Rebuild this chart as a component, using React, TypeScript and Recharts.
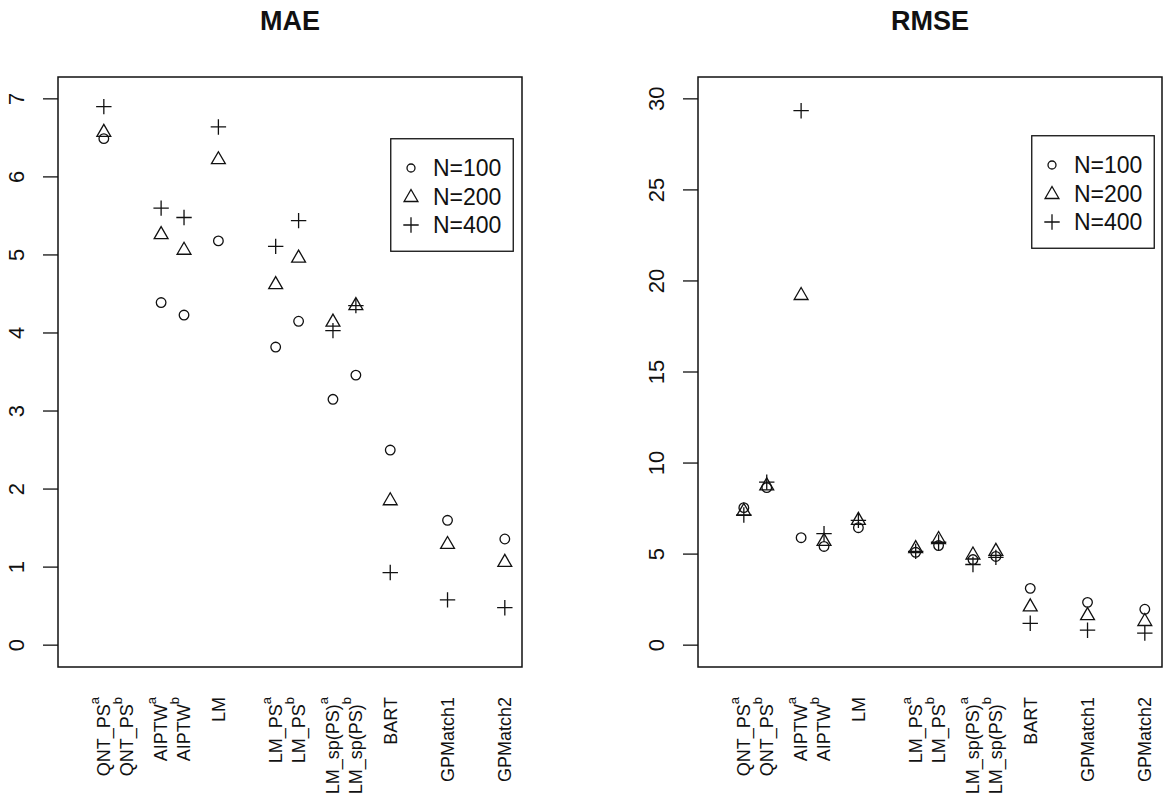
import React from 'react';
import { ScatterChart, Scatter, XAxis, YAxis, ReferenceArea, Legend } from 'recharts';

// x positions of the methods (numeric axis, R-style spacing)
const positions = [1, 1.4, 2, 2.4, 3, 4, 4.4, 5, 5.4, 6, 7, 8];
const methodNames = ['QNT_PS', 'QNT_PS', 'AIPTW', 'AIPTW', 'LM', 'LM_PS', 'LM_PS', 'LM_sp(PS)', 'LM_sp(PS)', 'BART', 'GPMatch1', 'GPMatch2'];
const methodSups = ['a', 'b', 'a', 'b', '', 'a', 'b', 'a', 'b', '', '', ''];

const seriesNames = ['N=100', 'N=200', 'N=400'];

// MAE (QNT_PS^b has no value in this panel)
const maeN100 = [6.49, null, 4.39, 4.23, 5.18, 3.82, 4.15, 3.15, 3.46, 2.5, 1.6, 1.36];
const maeN200 = [6.57, null, 5.26, 5.06, 6.22, 4.62, 4.96, 4.14, 4.35, 1.85, 1.29, 1.06];
const maeN400 = [6.9, null, 5.6, 5.48, 6.64, 5.11, 5.44, 4.03, 4.35, 0.93, 0.58, 0.48];

// RMSE
const rmseN100 = [7.55, 8.65, 5.9, 5.42, 6.45, 5.1, 5.47, 4.7, 4.87, 3.12, 2.35, 1.97];
const rmseN200 = [7.35, 8.75, 19.2, 5.7, 6.85, 5.3, 5.8, 4.95, 5.15, 2.1, 1.62, 1.3];
const rmseN400 = [7.15, 8.95, 29.35, 6.12, 6.85, 5.15, 5.65, 4.43, 4.82, 1.2, 0.82, 0.66];

const maeTicks = [0, 1, 2, 3, 4, 5, 6, 7];
const rmseTicks = [0, 5, 10, 15, 20, 25, 30];

const FONT = '"Liberation Sans", Arial, Helvetica, sans-serif';
const INK = '#111';
const X_DOMAIN: [number, number] = [0.2, 8.3];

const toPoints = (vals: (number | null)[]) =>
  positions.map((x, i) => ({ x, y: vals[i] })).filter(p => p.y !== null);

function CircleMark({ cx, cy, r = 4.8 }: any) {
  return <circle cx={cx} cy={cy} r={r} fill="none" stroke={INK} strokeWidth={1.3} />;
}

function TriangleMark({ cx, cy }: any) {
  const r = 8;
  const pts = `${cx},${cy - r} ${cx + 0.866 * r},${cy + r / 2} ${cx - 0.866 * r},${cy + r / 2}`;
  return <polygon points={pts} fill="none" stroke={INK} strokeWidth={1.3} />;
}

function PlusMark({ cx, cy }: any) {
  const h = 7.7;
  return (
    <path d={`M${cx - h},${cy}H${cx + h}M${cx},${cy - h}V${cy + h}`} stroke={INK} strokeWidth={1.3} fill="none" />
  );
}

const makeYTick = (labelX: number) => (props: any) => {
  const { y, payload } = props;
  return (
    <text transform={`translate(${labelX},${y}) rotate(-90)`} textAnchor="middle" dy="0.35em"
      fontSize={22} fontFamily={FONT} fill={INK}>
      {payload.value}
    </text>
  );
};

const XTick = (props: any) => {
  const { x, payload } = props;
  const i = positions.indexOf(payload.value);
  return (
    <text transform={`translate(${x},697) rotate(-90)`} textAnchor="end" dy="0.35em"
      fontSize={18} fontFamily={FONT} fill={INK}>
      {methodNames[i]}
      {methodSups[i] ? <tspan dy={-11} fontSize={13}>{methodSups[i]}</tspan> : null}
    </text>
  );
};

const LegendBox = () => (
  <svg width={124} height={114} style={{ display: 'block' }}>
    <rect x={0.75} y={0.75} width={122.5} height={112.5} fill="#fff" stroke={INK} strokeWidth={1.3} />
    {seriesNames.map((name, i) => {
      const cy = 30 + i * 28.5;
      return (
        <g key={name}>
          {i === 0 && <CircleMark cx={21} cy={cy} r={4} />}
          {i === 1 && <TriangleMark cx={21} cy={cy + 1} />}
          {i === 2 && <PlusMark cx={21} cy={cy} />}
          <text x={43} y={cy} dy="0.35em" fontSize={23} fontFamily={FONT} fill={INK}>{name}</text>
        </g>
      );
    })}
  </svg>
);

interface PanelProps {
  title: string;
  left: number;
  plotLeft: number;
  plotRight: number;
  yDomain: [number, number];
  yTicks: number[];
  n100: (number | null)[];
  n200: (number | null)[];
  n400: (number | null)[];
  legendLeft: number;
  legendTop: number;
}

function Panel({ title, left, plotLeft, plotRight, yDomain, yTicks, n100, n200, n400, legendLeft, legendTop }: PanelProps) {
  const W = 585;
  const H = 804;
  const plotTop = 77;
  const plotBottom = 667;
  const center = (plotLeft + plotRight) / 2;
  return (
    <div style={{ position: 'absolute', left, top: 0, width: W, height: H }}>
      <div style={{
        position: 'absolute', left: center - 100, top: 6, width: 200, textAlign: 'center',
        fontFamily: FONT, fontWeight: 'bold', fontSize: 27, lineHeight: '30px', color: INK,
      }}>{title}</div>
      <ScatterChart width={W} height={H}
        margin={{ top: plotTop, right: W - plotRight, bottom: 0, left: 0 }}>
        <XAxis dataKey="x" type="number" domain={X_DOMAIN} allowDataOverflow ticks={positions}
          interval={0} height={H - plotBottom} axisLine={false} tickLine={false} tick={XTick} />
        <YAxis dataKey="y" type="number" domain={yDomain} allowDataOverflow ticks={yTicks}
          width={plotLeft} axisLine={false} tickSize={15}
          tickLine={{ stroke: INK, strokeWidth: 1.3 }} tick={makeYTick(plotLeft - 42)} />
        <ReferenceArea x1={X_DOMAIN[0]} x2={X_DOMAIN[1]} y1={yDomain[0]} y2={yDomain[1]}
          fill="none" fillOpacity={0} stroke={INK} strokeWidth={1.5} />
        <Scatter name={seriesNames[0]} data={toPoints(n100)} shape={CircleMark} isAnimationActive={false} />
        <Scatter name={seriesNames[1]} data={toPoints(n200)} shape={TriangleMark} isAnimationActive={false} />
        <Scatter name={seriesNames[2]} data={toPoints(n400)} shape={PlusMark} isAnimationActive={false} />
        <Legend layout="vertical" align="center" verticalAlign="middle" content={LegendBox}
          wrapperStyle={{ left: legendLeft, top: legendTop, width: 124, height: 114 }} />
      </ScatterChart>
    </div>
  );
}

export default function App() {
  return (
    <div style={{ position: 'absolute', left: 0, top: 0, width: 1170, height: 804, background: '#fff' }}>
      <Panel title="MAE" left={0} plotLeft={58} plotRight={522} yDomain={[-0.28, 7.28]} yTicks={maeTicks}
        n100={maeN100} n200={maeN200} n400={maeN400} legendLeft={390} legendTop={138} />
      <Panel title="RMSE" left={585} plotLeft={113} plotRight={577} yDomain={[-1.2, 31.2]} yTicks={rmseTicks}
        n100={rmseN100} n200={rmseN200} n400={rmseN400} legendLeft={446} legendTop={135} />
    </div>
  );
}
